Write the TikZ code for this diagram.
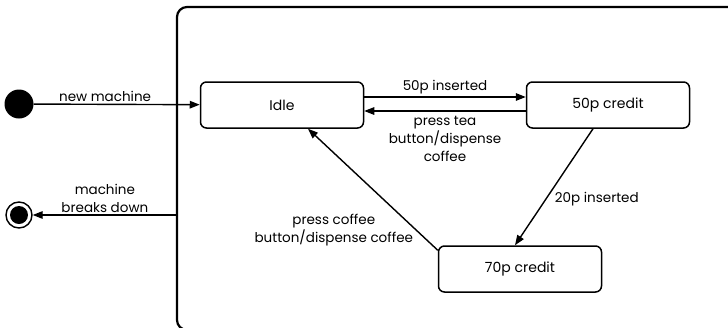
\documentclass[tikz,border=0pt]{standalone}
\usepackage{fontspec}
\setmainfont{Poppins}
\usetikzlibrary{arrows.meta,positioning,calc}
\tikzset{
  state/.style={draw,line width=1.5pt,rounded corners=6pt,minimum width=163pt,minimum height=46pt,font=\fontsize{14}{18}\selectfont},
  trans/.style={-{Triangle[length=10pt,width=7.5pt]},line width=1.4pt},
  lbl/.style={font=\fontsize{13.5}{18}\selectfont,align=center,inner sep=2pt},
}

\begin{document}
\begin{tikzpicture}[x=1pt,y=-1pt]
  \useasboundingbox (0,0) rectangle (728,327);
  \clip (0,0) rectangle (728,327);

  % enclosing state
  \draw[line width=2.2pt,rounded corners=10pt] (177,7) rectangle (780,330);

  % pseudo states
  \node[circle,fill=black,minimum size=29pt,inner sep=0pt] (start) at (19,104) {};
  \node[circle,draw,line width=1.4pt,minimum size=26pt,inner sep=0pt] (stop) at (19,215) {};
  \fill (stop.center) circle (9pt);
  \coordinate (edge) at (177,215);

  % states
  \node[state] (idle) at (282,105) {Idle};
  \node[state] (credA) at (608,105) {50p credit};
  \node[state] (credB) at (520,269) {70p credit};

  % transitions
  \draw[trans] (start) -- node[lbl,above,pos=0.43] {new machine} (idle);
  \draw[trans] (edge) -- node[lbl,above] {machine\\breaks down} (stop);
  \draw[trans] ([yshift=8pt]idle.east) -- node[lbl,above] {50p inserted} ([yshift=8pt]credA.west);
  \draw[trans] ([yshift=-6pt]credA.west) -- node[lbl,below=3pt] {press tea\\button/dispense\\coffee} ([yshift=-6pt]idle.east);
  \draw[trans] ([xshift=-15pt]credA.south) -- node[lbl,right=6pt,pos=0.6] {20p inserted} ([xshift=-5pt]credB.north);
  \draw[trans] ([yshift=-5pt]credB.north west) -- node[lbl,left,pos=0.17] {press coffee\\button/dispense coffee} ([xshift=26pt]idle.south);
\end{tikzpicture}
\end{document}
